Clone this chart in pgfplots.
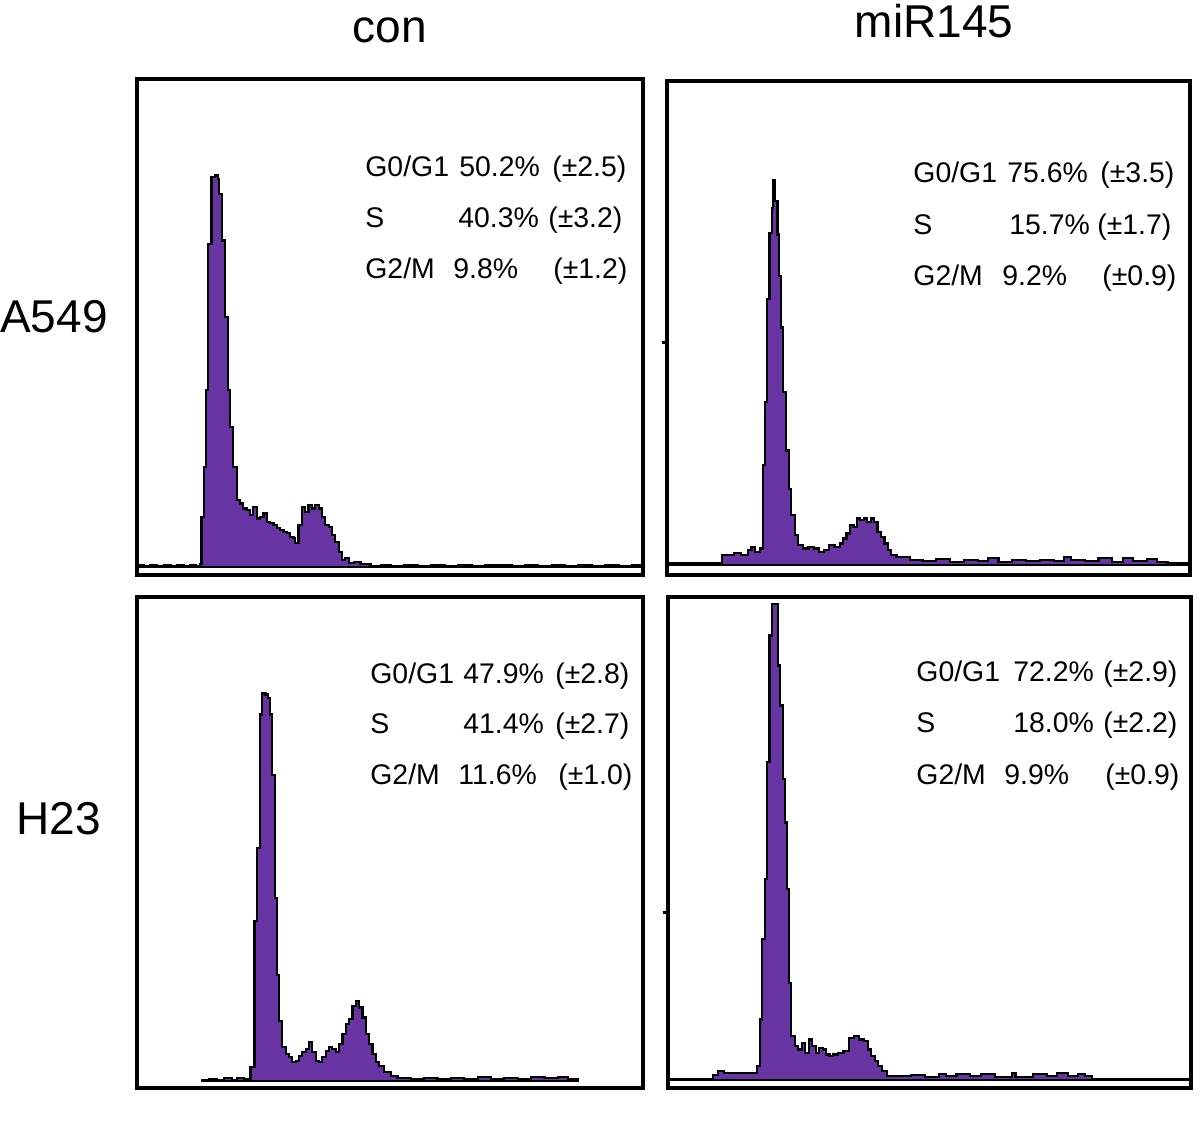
\documentclass[border=0pt]{standalone}
\usepackage{fontspec}
\setmainfont{Liberation Sans}
\usepackage{pgfplots}
\pgfplotsset{compat=1.18}
\definecolor{histpurple}{RGB}{104,52,164}
\newcommand\ptxt{\fontsize{14.2}{17}\selectfont}
\newcommand\ttl{\fontsize{23}{27}\selectfont}
\pgfplotsset{
  panel/.style={scale only axis, anchor=south west, xtick=\empty, ytick=\empty,
    axis line style={line width=2pt}, enlargelimits=false},
  hist/.style={const plot, fill=histpurple, draw=black, line width=1.1pt, line join=miter},
  smalltick/.style={yticklabels={}, ytick pos=left, tick align=outside, major tick length=2.5pt,
    every tick/.style={black, line width=1.5pt}}
}
\begin{document}
\begin{tikzpicture}
\path[use as bounding box] (0,0) rectangle (600pt,567.5pt);

% A549 con
\begin{axis}[panel, at={(68.5pt,280pt)}, width=253pt, height=248pt,
  xmin=0, xmax=1513, ymin=-25, ymax=1465]
\addplot[hist] coordinates {
(0,4) (20,2) (40,5) (60,3) (80,4) (100,2) (120,5) (140,3) (160,6) (175,3)
(188,8) (193,150) (200,300) (206,530) (213,970) (223,1170) (233,1175) (243,1165)
(246,1120) (253,980) (263,750) (273,530) (278,420) (288,300) (298,200) (308,190)
(318,175) (328,170) (338,155) (348,180) (358,145) (368,150) (378,160) (388,135)
(398,130) (408,125) (418,115) (428,110) (438,105) (448,100) (458,90) (468,85)
(473,70) (483,125) (493,180) (503,165) (513,185) (523,175) (533,185) (543,175)
(553,150) (563,125) (573,120) (583,95) (593,75) (603,45) (613,20) (623,25)
(633,10) (648,15) (668,8) (698,3) (730,5) (760,2) (800,4) (840,3) (880,6)
(920,3) (960,5) (1000,2) (1040,4) (1080,6) (1120,3) (1160,5) (1200,3) (1240,4)
(1280,2) (1320,5) (1360,3) (1400,4) (1440,3) (1480,5) (1508,5)
} \closedcycle;
\end{axis}

% A549 miR145
\begin{axis}[panel, at={(333.5pt,280pt)}, width=261.5pt, height=247pt,
  xmin=0, xmax=1515, ymin=-30, ymax=1457, ytick={669}, smalltick]
\addplot[hist] coordinates {
(0,5) (160,30) (175,30) (195,35) (215,30) (235,45) (245,55) (255,40) (270,50)
(277,300) (285,490) (290,800) (297,1000) (303,1075) (307,1160) (313,1095)
(320,995) (325,870) (330,715) (337,520) (345,345) (353,230) (360,150) (370,90)
(380,60) (395,50) (410,55) (425,50) (440,40) (455,45) (470,60) (485,55) (500,65)
(510,80) (520,95) (530,120) (540,115) (550,140) (560,135) (570,140) (580,130)
(590,140) (600,130) (610,100) (620,85) (630,65) (640,45) (650,30) (665,25)
(685,25) (705,15) (740,12) (780,18) (820,10) (860,15) (900,12) (930,20) (960,10)
(1000,14) (1040,12) (1080,16) (1120,12) (1150,25) (1170,14) (1210,12) (1250,20)
(1290,10) (1320,22) (1350,12) (1390,18) (1420,10) (1450,5) (1505,5)
} \closedcycle;
\end{axis}

% H23 con
\begin{axis}[panel, at={(68.5pt,23.5pt)}, width=253pt, height=245.5pt,
  xmin=0, xmax=1515, ymin=-22, ymax=1453]
\addplot[hist] coordinates {
(195,3) (215,6) (240,2) (260,7) (285,3) (300,8) (320,4) (340,40) (352,480)
(360,700) (368,1100) (375,1163) (385,1160) (392,1150) (398,1100) (405,918)
(412,548) (418,318) (425,180) (435,100) (445,80) (455,70) (465,55) (475,60)
(485,75) (495,85) (505,95) (515,115) (525,85) (535,60) (545,55) (555,70) (565,90)
(575,100) (585,95) (595,85) (605,110) (615,140) (625,170) (635,185) (645,225)
(655,240) (665,220) (675,190) (685,140) (695,110) (705,80) (715,55) (725,45)
(740,25) (760,15) (780,8) (820,5) (860,8) (900,4) (940,9) (980,6) (1020,10)
(1060,5) (1100,8) (1140,6) (1180,10) (1220,7) (1260,12) (1290,5) (1320,3)
} \closedcycle;
\end{axis}

% H23 miR145
\begin{axis}[panel, at={(334pt,23.5pt)}, width=261.5pt, height=245.5pt,
  xmin=0, xmax=1505, ymin=-25, ymax=1445, ytick={501}, smalltick]
\addplot[hist] coordinates {
(0,3) (130,15) (145,25) (160,20) (200,20) (245,20) (255,40) (265,180) (270,420)
(278,600) (285,950) (292,1330) (300,1425) (310,1425) (317,1240) (323,1120)
(330,900) (336,770) (342,570) (348,290) (355,130) (365,100) (375,90) (385,110)
(395,80) (405,120) (415,100) (425,80) (435,95) (445,90) (455,75) (465,70)
(475,75) (490,80) (505,85) (520,125) (535,130) (550,120) (565,115) (575,90)
(585,70) (595,55) (605,40) (615,25) (630,12) (700,15) (740,8) (780,18) (800,10)
(830,16) (870,10) (900,18) (940,8) (990,20) (1000,8) (1050,18) (1090,12)
(1120,20) (1150,10) (1180,16) (1200,10) (1220,3) (1505,3)
} \closedcycle;
\end{axis}

\begin{scope}[x=0.5pt,y=-0.5pt,shift={(0pt,567.5pt)}]
% titles
\node[anchor=base, inner sep=0] at (390,43) {\ttl con};
\node[anchor=base, inner sep=0] at (934,38) {\ttl miR145};
\node[anchor=base east, inner sep=0] at (108,333) {\ttl A549};
\node[anchor=base east, inner sep=0] at (101,835) {\ttl H23};
% panel 1
\begin{scope}[every node/.style={anchor=base west, inner sep=0, font=\ptxt}]
\node at (365,177) {G0/G1}; \node at (459,177) {50.2\%}; \node at (552,177) {(±2.5)};
\node at (365,228) {S};     \node at (458,228) {40.3\%}; \node at (548,228) {(±3.2)};
\node at (365,279) {G2/M};  \node at (453,279) {9.8\%};  \node at (553,279) {(±1.2)};
% panel 2
\node at (913,183) {G0/G1}; \node at (1007,183) {75.6\%}; \node at (1100,183) {(±3.5)};
\node at (913,235) {S};     \node at (1009,235) {15.7\%}; \node at (1097,235) {(±1.7)};
\node at (913,286) {G2/M};  \node at (1002,286) {9.2\%};  \node at (1102,286) {(±0.9)};
% panel 3
\node at (370,684) {G0/G1}; \node at (463,684) {47.9\%}; \node at (555,684) {(±2.8)};
\node at (370,734) {S};     \node at (463,734) {41.4\%}; \node at (555,734) {(±2.7)};
\node at (370,785) {G2/M};  \node at (458,785) {11.6\%}; \node at (558,785) {(±1.0)};
% panel 4
\node at (916,682) {G0/G1}; \node at (1013,682) {72.2\%}; \node at (1103,682) {(±2.9)};
\node at (916,733) {S};     \node at (1013,733) {18.0\%}; \node at (1103,733) {(±2.2)};
\node at (916,785) {G2/M};  \node at (1004,785) {9.9\%};  \node at (1105,785) {(±0.9)};
\end{scope}
\end{scope}
\end{tikzpicture}
\end{document}
